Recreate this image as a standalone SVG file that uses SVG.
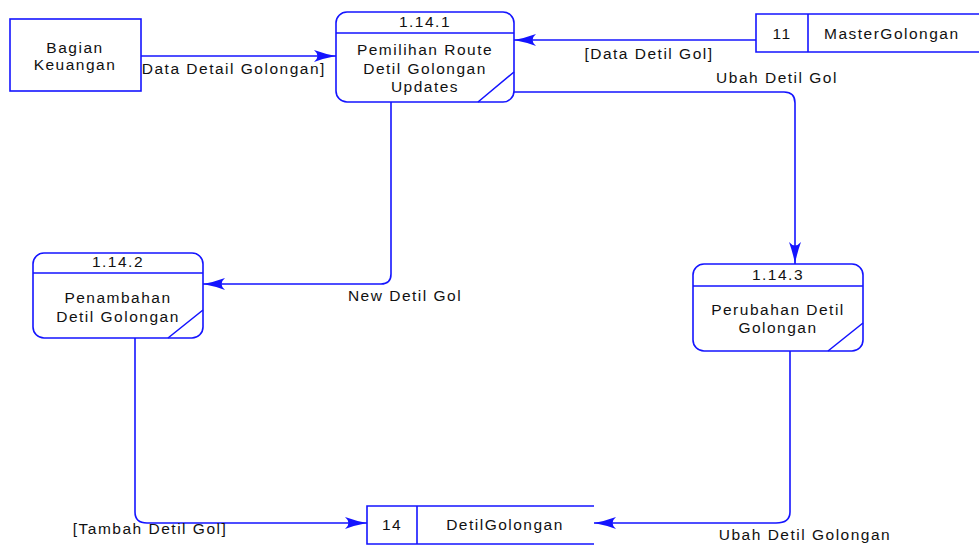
<svg xmlns="http://www.w3.org/2000/svg" width="979" height="545" viewBox="0 0 979 545">
<style>
.b{fill:#fff;stroke:#1414ff;stroke-width:1.6}
.ln{fill:none;stroke:#1414ff;stroke-width:1.6}
.c{fill:none;stroke:#1414ff;stroke-width:1.6;marker-end:url(#ah)}
text{font-family:"Liberation Sans",Arial,sans-serif;font-size:15.5px;fill:#111;letter-spacing:1.5px}
.m{text-anchor:middle}
</style>
<defs>
<marker id="ah" viewBox="-23 -7 24 14" markerWidth="24" markerHeight="14" refX="0" refY="0" orient="auto" markerUnits="userSpaceOnUse">
<path d="M0,0 Q-11,-2 -22,-6 Q-15,0 -22,6 Q-11,2 0,0 Z" fill="#1414ff"/>
</marker>
</defs>
<g id="connectors">
<path class="c" d="M141,56 H336"/>
<path class="c" d="M756,40 H514"/>
<path class="c" d="M514,92 H784 Q795,92 795,103 V264"/>
<path class="c" d="M391,102 V274 Q391,284 381,284 H203"/>
<path class="c" d="M135,338 V512 Q135,523 147,523 H367"/>
<path class="c" d="M790,351 V512 Q790,523 776,523 H594"/>
<text x="136" y="74">[Data Detail Golongan]</text>
<text class="m" x="649" y="59">[Data Detil Gol]</text>
<text class="m" x="777" y="83">Ubah Detil Gol</text>
<text class="m" x="405" y="301">New Detil Gol</text>
<text class="m" x="150" y="534">[Tambah Detil Gol]</text>
<text class="m" x="805" y="540">Ubah Detil Golongan</text>
</g>
<g id="bagian-keuangan">
<rect class="b" x="10" y="19" width="131" height="72"/>
<text class="m" x="75" y="53">Bagian</text>
<text class="m" x="75" y="70">Keuangan</text>
</g>
<g id="p1141">
<rect class="b" x="336" y="12" width="178" height="90" rx="11"/>
<path class="ln" d="M336,33 H514 M478,102 L514,72"/>
<text class="m" x="425" y="27">1.14.1</text>
<text class="m" x="425" y="55">Pemilihan Route</text>
<text class="m" x="425" y="74">Detil Golongan</text>
<text class="m" x="425" y="92">Updates</text>
</g>
<g id="store11">
<path class="ln" d="M985,14 H756 V52 H985 M808,14 V52"/>
<text class="m" x="782" y="39">11</text>
<text x="824" y="39">MasterGolongan</text>
</g>
<g id="p1142">
<rect class="b" x="33" y="253" width="170" height="85" rx="11"/>
<path class="ln" d="M33,273 H203 M168,338 L203,310"/>
<text class="m" x="118" y="267">1.14.2</text>
<text class="m" x="118" y="303">Penambahan</text>
<text class="m" x="118" y="322">Detil Golongan</text>
</g>
<g id="p1143">
<rect class="b" x="693" y="264" width="170" height="87" rx="11"/>
<path class="ln" d="M693,286 H863 M828,351 L863,323"/>
<text class="m" x="778" y="280">1.14.3</text>
<text class="m" x="778" y="315">Perubahan Detil</text>
<text class="m" x="778" y="333">Golongan</text>
</g>
<g id="store14">
<path class="ln" d="M594,506 H367 V544 H594 M417,506 V544"/>
<text class="m" x="392" y="530">14</text>
<text class="m" x="505" y="530">DetilGolongan</text>
</g>
</svg>
